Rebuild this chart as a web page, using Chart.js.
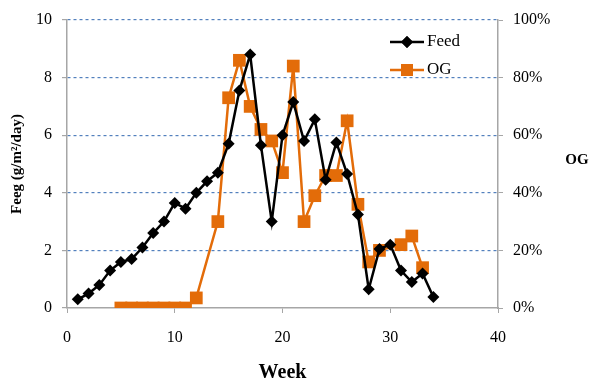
<!DOCTYPE html>
<html>
<head>
<meta charset="utf-8">
<script src="https://cdn.jsdelivr.net/npm/chart.js@4"></script>
<style>
  html, body { margin: 0; padding: 0; background: #fff; }
  #wrap { width: 590px; height: 378px; }
</style>
</head>
<body>
<div id="wrap"><canvas id="chart"></canvas></div>
<script>
var feedWeeks = [1, 2, 3, 4, 5, 6, 7, 8, 9, 10, 11, 12, 13, 14, 15, 16, 17,
    18, 19, 20, 21, 22, 23, 24, 25, 26, 27, 28, 29, 30, 31, 32, 33, 34];
var feed = [0.3, 0.5, 0.8, 1.3, 1.6, 1.7, 2.1, 2.6, 3.0, 3.65, 3.45, 4.0, 4.4, 4.7, 5.7, 7.55, 8.8,
    5.65, 3.0, 6.0, 7.15, 5.8, 6.55, 4.45, 5.75, 4.65, 3.25, 0.65, 2.05, 2.2, 1.3, 0.9, 1.2, 0.38];
var ogWeeks = [5, 6, 7, 8, 9, 10, 11, 12, 14, 15, 16, 17, 18, 19, 20, 21,
    22, 23, 24, 25, 26, 27, 28, 29, 31, 32, 33];
var og = [0, 0, 0, 0, 0, 0, 0, 3.5, 30, 73, 86, 70, 62, 58, 47, 84,
    30, 39, 46, 46, 65, 36, 16, 20, 22, 25, 14];
var weekTicks = [0, 10, 20, 30, 40];
var feedTicks = [0, 2, 4, 6, 8, 10];
var ogTicks = [0, 20, 40, 60, 80, 100];

var serif = "'Liberation Serif', 'Times New Roman', serif";
var orange = '#e36c09';
var axisGrey = '#a6a6a6';

function pairs(xs, ys) {
    return xs.map(function (x, i) { return { x: x, y: ys[i] }; });
}

// legend drawn inside the plot, plus the horizontal "OG" title on the right
var extras = {
    id: 'extras',
    afterDraw: function (chart) {
        var c = chart.ctx;
        var a = chart.chartArea;
        c.save();
        var rows = [
            { label: 'Feed', color: '#000', style: 'rectRot', r: 6, y: a.top + 22 },
            { label: 'OG', color: orange, style: 'rect', r: 8.5, y: a.top + 50 }
        ];
        var x0 = a.right - 108;
        rows.forEach(function (row) {
            c.strokeStyle = row.color;
            c.lineWidth = 2.5;
            c.beginPath();
            c.moveTo(x0, row.y);
            c.lineTo(x0 + 34, row.y);
            c.stroke();
            c.fillStyle = row.color;
            Chart.helpers.drawPoint(c, { pointStyle: row.style, radius: row.r, borderWidth: 0 }, x0 + 17, row.y);
            c.fill();
            c.fillStyle = '#000';
            c.font = '17px ' + serif;
            c.textBaseline = 'middle';
            c.textAlign = 'left';
            c.fillText(row.label, x0 + 37, row.y);
        });
        c.font = 'bold 15px ' + serif;
        c.textAlign = 'center';
        c.fillText('OG', a.right + 79, (a.top + a.bottom) / 2 - 4);
        c.restore();
    }
};

new Chart(document.getElementById('chart'), {
    type: 'line',
    data: {
        datasets: [{
            label: 'Feed',
            data: pairs(feedWeeks, feed),
            yAxisID: 'y',
            borderColor: '#000',
            backgroundColor: '#000',
            borderWidth: 2.5,
            pointStyle: 'rectRot',
            pointRadius: 6,
            pointBorderWidth: 0,
            tension: 0
        }, {
            label: 'OG',
            data: pairs(ogWeeks, og),
            yAxisID: 'y1',
            borderColor: orange,
            backgroundColor: orange,
            borderWidth: 2.5,
            pointStyle: 'rect',
            pointRadius: 9,
            pointBorderWidth: 0,
            tension: 0
        }]
    },
    options: {
        responsive: true,
        maintainAspectRatio: false,
        animation: false,
        layout: { padding: { top: 20, left: 0, right: 0, bottom: 0 } },
        plugins: {
            legend: { display: false },
            tooltip: { enabled: false }
        },
        scales: {
            x: {
                type: 'linear',
                min: 0,
                max: 40,
                afterBuildTicks: function (s) { s.ticks = weekTicks.map(function (v) { return { value: v }; }); },
                afterFit: function (s) { s.height = 70; },
                grid: { drawOnChartArea: false, tickLength: 5, tickColor: axisGrey },
                border: { color: axisGrey, width: 1.5 },
                ticks: { color: '#000', font: { family: serif, size: 16 }, padding: 15, maxRotation: 0 },
                title: { display: true, text: 'Week', color: '#000', font: { family: serif, size: 20, weight: 'bold' }, padding: { top: 0, bottom: -7 } }
            },
            y: {
                position: 'left',
                min: 0,
                max: 10,
                afterBuildTicks: function (s) { s.ticks = feedTicks.map(function (v) { return { value: v }; }); },
                afterFit: function (s) { s.width = 67; },
                grid: {
                    color: function (ctx) { return ctx.tick && ctx.tick.value === 0 ? 'rgba(0,0,0,0)' : '#5380bd'; },
                    lineWidth: 1.2,
                    tickLength: 5,
                    tickColor: axisGrey,
                    tickBorderDash: []
                },
                border: { color: axisGrey, width: 1.5, dash: [3, 3] },
                ticks: { color: '#000', font: { family: serif, size: 16 }, padding: 10 },
                title: { display: true, text: 'Feeg (g/m²/day)', color: '#000', font: { family: serif, size: 15, weight: 'bold' }, padding: { top: 8, bottom: 0 } }
            },
            y1: {
                position: 'right',
                min: 0,
                max: 100,
                afterBuildTicks: function (s) { s.ticks = ogTicks.map(function (v) { return { value: v }; }); },
                afterFit: function (s) { s.width = 92; },
                grid: { drawOnChartArea: false, tickLength: 5, tickColor: axisGrey },
                border: { color: axisGrey, width: 1.5 },
                ticks: {
                    color: '#000',
                    font: { family: serif, size: 16 },
                    padding: 10,
                    callback: function (v) { return v + '%'; }
                }
            }
        }
    },
    plugins: [extras]
});
</script>
</body>
</html>
